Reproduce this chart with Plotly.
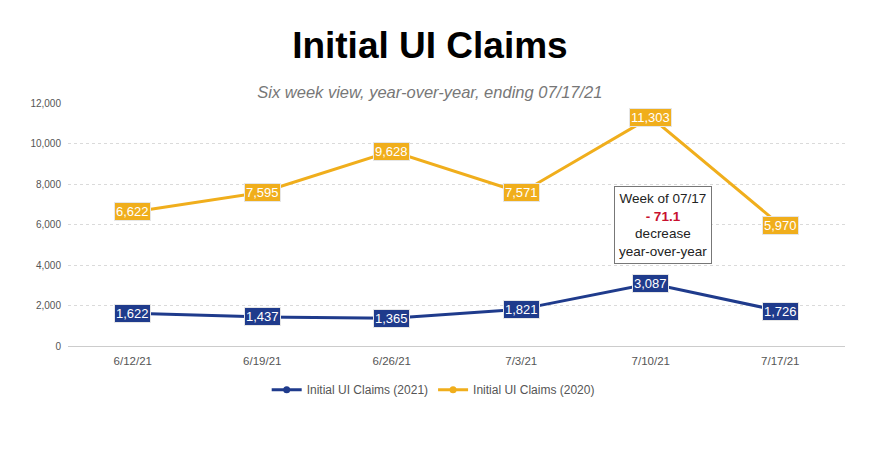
import plotly.graph_objects as go

weeks = ["6/12/21", "6/19/21", "6/26/21", "7/3/21", "7/10/21", "7/17/21"]
claims_2021 = [1622, 1437, 1365, 1821, 3087, 1726]
claims_2020 = [6622, 7595, 9628, 7571, 11303, 5970]

BLUE = "#1f3b8c"
GOLD = "#f0ae1c"
FONT = "Liberation Sans, Arial"

fig = go.Figure()
fig.add_trace(go.Scatter(x=weeks, y=claims_2021, name="Initial UI Claims (2021)",
                         mode="lines+markers", line=dict(color=BLUE, width=3),
                         marker=dict(size=7, color=BLUE)))
fig.add_trace(go.Scatter(x=weeks, y=claims_2020, name="Initial UI Claims (2020)",
                         mode="lines+markers", line=dict(color=GOLD, width=3),
                         marker=dict(size=7, color=GOLD)))

annotations = []
for series, color in ((claims_2021, BLUE), (claims_2020, GOLD)):
    for w, v in zip(weeks, series):
        annotations.append(dict(x=w, y=v, xref="x", yref="y", text=f"{v:,}",
                                showarrow=False, bgcolor=color, bordercolor="#e6e6e6",
                                borderwidth=1, borderpad=1,
                                font=dict(family=FONT, size=13, color="white")))

annotations.append(dict(x=0.766, y=6000, xref="paper", yref="y", xanchor="center",
                        text="Week of 07/17<br><span style='color:#c8102e'><b>- 71.1</b></span><br>decrease<br>year-over-year",
                        showarrow=False, bgcolor="white", bordercolor="#777", borderwidth=1,
                        borderpad=4, align="center",
                        font=dict(family=FONT, size=13.5, color="#222")))

fig.update_layout(
    width=872, height=449,
    margin=dict(l=68, r=27, t=103, b=103),
    paper_bgcolor="white", plot_bgcolor="white",
    title=dict(text="<b>Initial UI Claims</b>", x=0.493, xanchor="center", y=0.9, yanchor="middle",
               font=dict(family=FONT, size=37, color="black"),
               subtitle=dict(text="<i>Six week view, year-over-year, ending 07/17/21</i>",
                             font=dict(family=FONT, size=16.5, color="#777"))),
    font=dict(family=FONT, size=10, color="#555"),
    showlegend=True,
    legend=dict(orientation="h", x=0.47, xanchor="center", y=-0.18, yanchor="middle",
                font=dict(size=12, color="#555")),
    xaxis=dict(type="category", range=[-0.5, 5.5], showgrid=False, showline=False, ticks="",
               tickfont=dict(size=11.5, color="#555"), ticklabelstandoff=6),
    yaxis=dict(range=[0, 12000], dtick=2000, tickformat=",", showgrid=True,
               gridcolor="#dadada", griddash="dot", zeroline=True, zerolinecolor="#cccccc",
               zerolinewidth=1, showline=False, tickfont=dict(size=10, color="#555"),
               ticklabelstandoff=6),
    annotations=annotations,
)
fig.write_html("out.html")
